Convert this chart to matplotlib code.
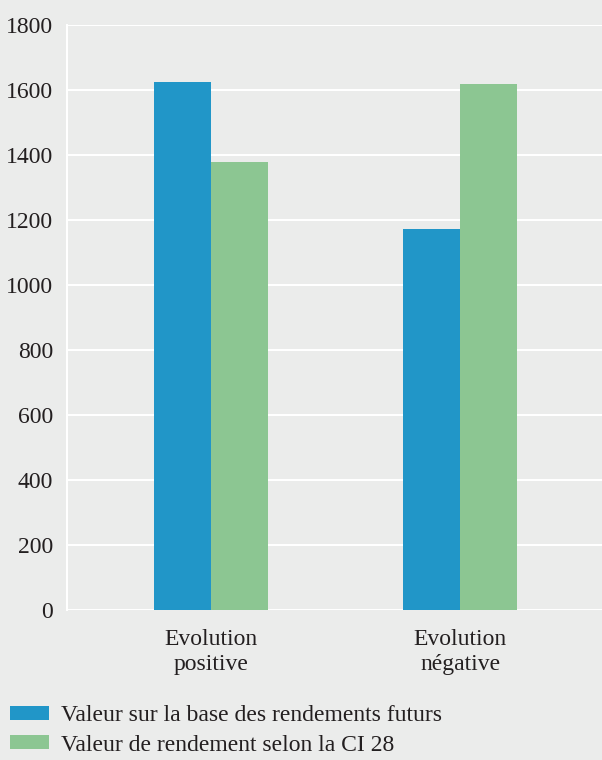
import matplotlib
matplotlib.use("Agg")
import matplotlib.pyplot as plt
import numpy as np
from matplotlib.patches import Patch

categories = ["Evolution\npositive", "Evolution\nnégative"]
series_names = ["Valeur sur la base des rendements futurs",
                "Valeur de rendement selon la CI 28"]
futurs = [1625, 1172]
ci28 = [1378, 1618]
y_ticks = [0, 200, 400, 600, 800, 1000, 1200, 1400, 1600, 1800]

BG = "#EBECEB"
BLUE = "#2196C8"
GREEN = "#8CC692"
TEXT = "#231F20"

plt.rcParams["font.family"] = ["Liberation Serif", "DejaVu Serif"]

fig = plt.figure(figsize=(6.02, 7.60), dpi=100, facecolor=BG)
ax = fig.add_axes([67 / 602, 1 - 610 / 760, 535 / 602, 585 / 760], facecolor=BG)

x = np.arange(len(categories))
w = 0.229
ax.bar(x - w / 2, futurs, width=w, color=BLUE, zorder=3)
ax.bar(x + w / 2, ci28, width=w, color=GREEN, zorder=3)

ax.set_xlim(-0.578, 1.570)
ax.set_ylim(0, 1800)
ax.set_yticks(y_ticks)
ax.set_yticklabels([str(v) for v in y_ticks], fontsize=17, color=TEXT)
ax.set_xticks(x)
ax.set_xticklabels(categories, fontsize=17, color=TEXT, linespacing=1.2)
ax.tick_params(axis="both", length=0)
ax.tick_params(axis="y", pad=10)
ax.tick_params(axis="x", pad=14)
ax.grid(axis="y", color="white", linewidth=1.5, zorder=1)

for s in ["top", "right", "bottom"]:
    ax.spines[s].set_visible(False)
ax.spines["left"].set_color("white")
ax.spines["left"].set_linewidth(1.5)

handles = [Patch(facecolor=BLUE), Patch(facecolor=GREEN)]
fig.legend(handles, series_names, loc="upper left",
           bbox_to_anchor=(1 / 602, 1 - 696 / 760), frameon=False,
           fontsize=17, labelcolor=TEXT, handlelength=1.65, handleheight=0.55,
           handletextpad=0.5, labelspacing=0.35, borderaxespad=0)

fig.savefig("out.png", dpi=100, facecolor=BG)
